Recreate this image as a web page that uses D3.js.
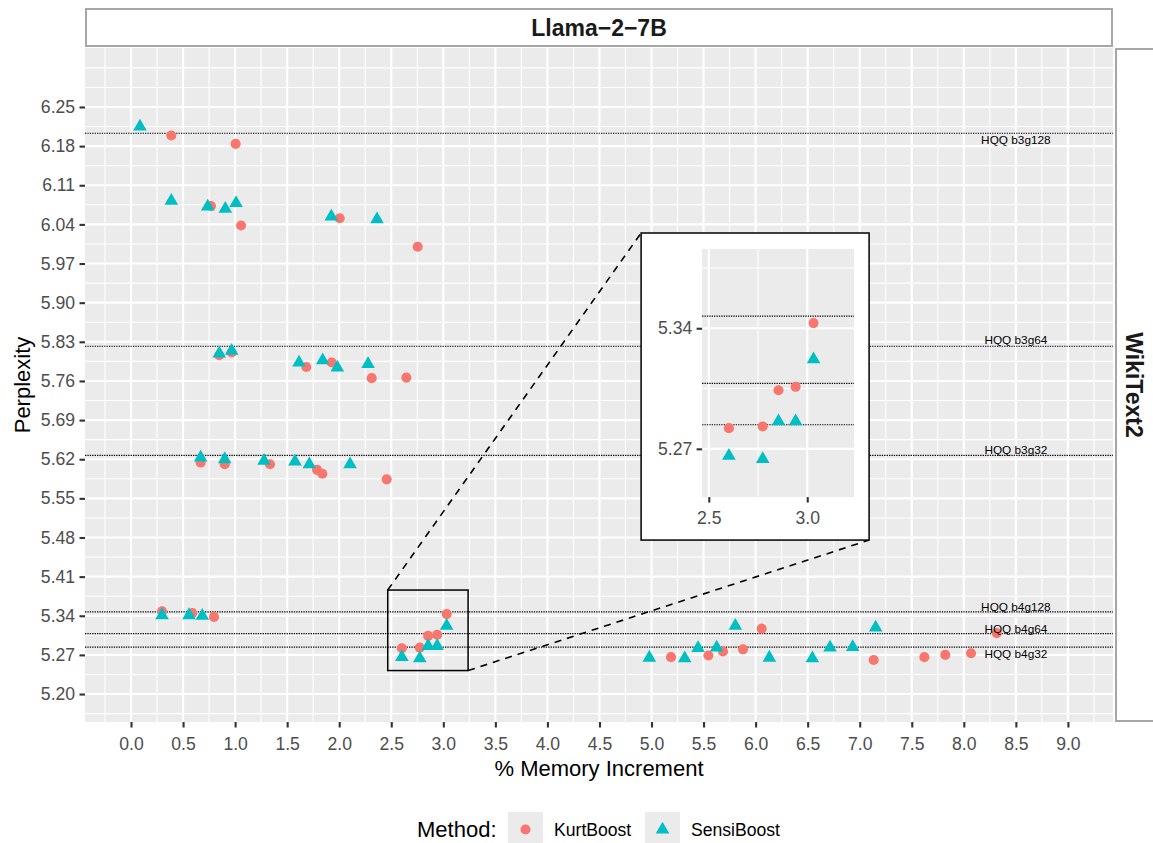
<!DOCTYPE html>
<html>
<head>
<meta charset="utf-8">
<script src="https://cdn.jsdelivr.net/npm/d3@7"></script>
<style>
body { margin: 0; background: #fff; }
svg { display: block; font-family: "Liberation Sans", Arial, sans-serif; }
.axis .domain { display: none; }
.axis line { stroke: #333333; stroke-width: 2.1; }
.axis text { fill: #4d4d4d; font-size: 17.6px; font-family: "Liberation Sans", Arial, sans-serif; }
</style>
</head>
<body>
<svg id="svg_chart" width="1153" height="843"></svg>
<script>

// ====================================================
// values
var x_ticks = [0.0, 0.5, 1.0, 1.5, 2.0, 2.5, 3.0, 3.5, 4.0, 4.5, 5.0, 5.5, 6.0, 6.5, 7.0, 7.5, 8.0, 8.5, 9.0];
var y_ticks = [5.20, 5.27, 5.34, 5.41, 5.48, 5.55, 5.62, 5.69, 5.76, 5.83, 5.90, 5.97, 6.04, 6.11, 6.18, 6.25];
var inset_x_ticks = [2.5, 3.0];
var inset_y_ticks = [5.27, 5.34];

var methods = ["KurtBoost", "SensiBoost"];
var method_colours = ["#F8766D", "#00BFC4"];

// KurtBoost: % memory increment / perplexity
var kurt_mem = [0.387, 1.005, 0.768, 1.057, 2.005, 2.754,
	0.848, 0.967, 1.684, 1.928, 2.312, 2.645,
	0.669, 0.900, 1.335, 1.787, 1.838, 2.456,
	0.298, 0.589, 0.797, 2.602, 2.774, 2.854, 2.941, 3.032,
	5.187, 5.546, 5.687, 5.879, 6.058, 7.134, 7.621, 7.822, 8.069, 8.316];
var kurt_ppl = [6.199, 6.184, 6.073, 6.038, 6.051, 6.000,
	5.806, 5.811, 5.785, 5.793, 5.765, 5.766,
	5.614, 5.611, 5.611, 5.601, 5.594, 5.584,
	5.348, 5.345, 5.338, 5.282, 5.283, 5.304, 5.306, 5.343,
	5.266, 5.269, 5.276, 5.280, 5.317, 5.261, 5.266, 5.270, 5.273, 5.309];

// SensiBoost
var sensi_mem = [0.086, 0.387, 0.737, 0.906, 1.009, 1.924, 2.363,
	0.848, 0.967, 1.614, 1.841, 1.982, 2.277,
	0.669, 0.900, 1.278, 1.575, 1.713, 2.104,
	0.298, 0.557, 0.685, 2.602, 2.774, 2.854, 2.941, 3.032,
	4.979, 5.319, 5.447, 5.626, 5.805, 6.132, 6.545, 6.715, 6.933, 7.153];
var sensi_ppl = [6.215, 6.082, 6.072, 6.068, 6.078, 6.054, 6.049,
	5.809, 5.814, 5.793, 5.797, 5.784, 5.790,
	5.623, 5.620, 5.617, 5.616, 5.611, 5.611,
	5.341, 5.341, 5.340, 5.266, 5.264, 5.286, 5.286, 5.322,
	5.265, 5.264, 5.282, 5.283, 5.322, 5.265, 5.264, 5.283, 5.284, 5.319];

// HQQ baselines
var hqq_names = ["HQQ b3g128", "HQQ b3g64", "HQQ b3g32", "HQQ b4g128", "HQQ b4g64", "HQQ b4g32"];
var hqq_ppl = [6.203, 5.822, 5.627, 5.347, 5.308, 5.284];
var hqq_label_ppl = [6.191, 5.833, 5.636, 5.356, 5.316, 5.271];
var hqq_label_mem = 8.5;

// zoom window and where its magnified copy sits (data units)
var zoom_mem = [2.466, 3.238];
var zoom_ppl = [5.242, 5.386];
var inset_mem = [4.9, 7.09];
var inset_ppl = [5.4754, 6.0246];


// ====================================================
var svg = d3.select("svg#svg_chart");

var panel = {left: 85, right: 1113, top: 48, bottom: 722};

var x_main = d3.scaleLinear()
	.domain([-0.442, 9.433])
	.range([panel.left, panel.right]);

var y_main = d3.scaleLinear()
	.domain([5.150, 6.3555])
	.range([panel.bottom, panel.top]);

var arr_points = [];
kurt_mem.forEach(function(d, i) { arr_points.push({method: 0, mem: d, ppl: kurt_ppl[i]}); });
sensi_mem.forEach(function(d, i) { arr_points.push({method: 1, mem: d, ppl: sensi_ppl[i]}); });

var sym_circle = d3.symbol().type(d3.symbolCircle).size(80);
var sym_triangle = d3.symbol().type(d3.symbolTriangle).size(80);

function fn_shape(m) { return m == 0 ? sym_circle() : sym_triangle(); }

// ggplot style minor breaks: halfway points, one step past the majors
function fn_minor_breaks(ticks, domain) {
	var bd = ticks[1] - ticks[0];
	var b = ticks.slice();
	if (domain[0] < b[0]) b.unshift(b[0] - bd);
	if (domain[1] > b[b.length - 1]) b.push(b[b.length - 1] + bd);
	var out = [];
	for (var i = 0; i < b.length - 1; i++) {
		out.push(b[i], (b[i] + b[i + 1]) / 2);
	}
	out.push(b[b.length - 1]);
	return out.filter(function(v) {
		var is_major = ticks.some(function(t) { return Math.abs(t - v) < 1e-9; });
		return !is_major && v >= domain[0] && v <= domain[1];
	});
}

function fn_draw_panel(g, x, y, xt, yt, clip_id) {
	var x0 = x.range()[0], x1 = x.range()[1];
	var y0 = y.range()[1], y1 = y.range()[0];

	g.append("clipPath").attr("id", clip_id)
		.append("rect")
		.attr("x", x0).attr("y", y0)
		.attr("width", x1 - x0).attr("height", y1 - y0);

	g.append("rect")
		.attr("x", x0).attr("y", y0)
		.attr("width", x1 - x0).attr("height", y1 - y0)
		.attr("fill", "#EBEBEB");

	// minor grid
	g.selectAll(".grid-minor-x")
		.data(fn_minor_breaks(xt, x.domain()))
		.enter().append("line")
		.attr("x1", function(d) { return x(d); }).attr("x2", function(d) { return x(d); })
		.attr("y1", y0).attr("y2", y1)
		.attr("stroke", "#fff").attr("stroke-width", 1.07);

	g.selectAll(".grid-minor-y")
		.data(fn_minor_breaks(yt, y.domain()))
		.enter().append("line")
		.attr("y1", function(d) { return y(d); }).attr("y2", function(d) { return y(d); })
		.attr("x1", x0).attr("x2", x1)
		.attr("stroke", "#fff").attr("stroke-width", 1.07);

	// major grid
	g.selectAll(".grid-major-x")
		.data(xt)
		.enter().append("line")
		.attr("x1", function(d) { return x(d); }).attr("x2", function(d) { return x(d); })
		.attr("y1", y0).attr("y2", y1)
		.attr("stroke", "#fff").attr("stroke-width", 2.13);

	g.selectAll(".grid-major-y")
		.data(yt)
		.enter().append("line")
		.attr("y1", function(d) { return y(d); }).attr("y2", function(d) { return y(d); })
		.attr("x1", x0).attr("x2", x1)
		.attr("stroke", "#fff").attr("stroke-width", 2.13);

	var g_data = g.append("g").attr("clip-path", "url(#" + clip_id + ")");

	// HQQ reference lines
	g_data.selectAll(".hqq")
		.data(hqq_ppl)
		.enter().append("line")
		.attr("x1", x0).attr("x2", x1)
		.attr("y1", function(d) { return y(d); }).attr("y2", function(d) { return y(d); })
		.attr("stroke", "#000").attr("stroke-width", 1.15)
		.attr("stroke-dasharray", "1.3,1.1");

	g_data.selectAll(".pt")
		.data(arr_points)
		.enter().append("path")
		.attr("transform", function(d) { return "translate(" + x(d.mem) + "," + y(d.ppl) + ")"; })
		.attr("d", function(d) { return fn_shape(d.method); })
		.attr("fill", function(d) { return method_colours[d.method]; });

	return g_data;
}


// ====================================================
// strips
svg.append("rect")
	.attr("x", 86).attr("y", 9).attr("width", 1026).attr("height", 37)
	.attr("fill", "#fff").attr("stroke", "#A6A6A6").attr("stroke-width", 2);

svg.append("text")
	.attr("x", (panel.left + panel.right) / 2).attr("y", 36)
	.attr("text-anchor", "middle")
	.attr("font-size", 23)
	.attr("font-weight", "bold")
	.attr("fill", "#1a1a1a")
	.text("Llama\u22122\u22127B");

svg.append("rect")
	.attr("x", 1116).attr("y", 49).attr("width", 60).attr("height", 672)
	.attr("fill", "#fff").attr("stroke", "#A6A6A6").attr("stroke-width", 2);

svg.append("text")
	.attr("transform", "translate(1126," + (panel.top + panel.bottom) / 2 + ") rotate(90)")
	.attr("text-anchor", "middle")
	.attr("font-size", 23)
	.attr("font-weight", "bold")
	.attr("fill", "#1a1a1a")
	.text("WikiText2");


// ====================================================
// main panel
var g_main = svg.append("g").attr("class", "panel-main");
var g_main_data = fn_draw_panel(g_main, x_main, y_main, x_ticks, y_ticks, "clip_main");

g_main_data.selectAll(".hqq-label")
	.data(hqq_names)
	.enter().append("text")
	.attr("x", x_main(hqq_label_mem))
	.attr("y", function(d, i) { return y_main(hqq_label_ppl[i]); })
	.attr("dy", "0.35em")
	.attr("text-anchor", "middle")
	.attr("font-size", 11.8)
	.attr("fill", "#000")
	.text(function(d) { return d; });

// axes
svg.append("g")
	.attr("class", "axis axis--y")
	.attr("transform", "translate(" + panel.left + ",0)")
	.call(d3.axisLeft(y_main)
		.tickValues(y_ticks)
		.tickFormat(d3.format(".2f"))
		.tickSize(5.5)
		.tickPadding(4.4));

svg.append("g")
	.attr("class", "axis axis--x")
	.attr("transform", "translate(0," + panel.bottom + ")")
	.call(d3.axisBottom(x_main)
		.tickValues(x_ticks)
		.tickFormat(d3.format(".1f"))
		.tickSize(5.5)
		.tickPadding(4.4))
	.selectAll("text")
	.attr("y", 16);

svg.append("text")
	.attr("x", (panel.left + panel.right) / 2).attr("y", 776)
	.attr("text-anchor", "middle")
	.attr("font-size", 22)
	.attr("fill", "#000")
	.text("% Memory Increment");

svg.append("text")
	.attr("transform", "translate(30," + (panel.top + panel.bottom) / 2 + ") rotate(-90)")
	.attr("text-anchor", "middle")
	.attr("font-size", 22)
	.attr("fill", "#000")
	.text("Perplexity");


// ====================================================
// zoom box, connectors and inset
var zx0 = x_main(zoom_mem[0]), zx1 = x_main(zoom_mem[1]);
var zy0 = y_main(zoom_ppl[1]), zy1 = y_main(zoom_ppl[0]);
var ix0 = x_main(inset_mem[0]), ix1 = x_main(inset_mem[1]);
var iy0 = y_main(inset_ppl[1]), iy1 = y_main(inset_ppl[0]);

svg.append("rect")
	.attr("x", zx0).attr("y", zy0)
	.attr("width", zx1 - zx0).attr("height", zy1 - zy0)
	.attr("fill", "none").attr("stroke", "#000").attr("stroke-width", 1.5);

svg.selectAll(".connector")
	.data([[zx0, zy0, ix0, iy0], [zx1, zy1, ix1, iy1]])
	.enter().append("line")
	.attr("x1", function(d) { return d[0]; }).attr("y1", function(d) { return d[1]; })
	.attr("x2", function(d) { return d[2]; }).attr("y2", function(d) { return d[3]; })
	.attr("stroke", "#000").attr("stroke-width", 1.6)
	.attr("stroke-dasharray", "7,6");

svg.append("rect")
	.attr("x", ix0).attr("y", iy0)
	.attr("width", ix1 - ix0).attr("height", iy1 - iy0)
	.attr("fill", "#fff").attr("stroke", "#000").attr("stroke-width", 1.5);

var x_inset = d3.scaleLinear()
	.domain(zoom_mem)
	.range([ix0 + 61, ix1 - 15]);

var y_inset = d3.scaleLinear()
	.domain(zoom_ppl)
	.range([iy1 - 43, iy0 + 16]);

var g_inset = svg.append("g").attr("class", "panel-inset");
fn_draw_panel(g_inset, x_inset, y_inset, inset_x_ticks, inset_y_ticks, "clip_inset");

svg.append("g")
	.attr("class", "axis axis--y")
	.attr("transform", "translate(" + x_inset.range()[0] + ",0)")
	.call(d3.axisLeft(y_inset)
		.tickValues(inset_y_ticks)
		.tickFormat(d3.format(".2f"))
		.tickSize(5.5)
		.tickPadding(4.4));

svg.append("g")
	.attr("class", "axis axis--x")
	.attr("transform", "translate(0," + y_inset.range()[0] + ")")
	.call(d3.axisBottom(x_inset)
		.tickValues(inset_x_ticks)
		.tickFormat(d3.format(".1f"))
		.tickSize(5.5)
		.tickPadding(4.4))
	.selectAll("text")
	.attr("y", 14);


// ====================================================
// legend
var legend = svg.append("g").attr("class", "legend");

legend.append("text")
	.attr("x", 417).attr("y", 837)
	.attr("font-size", 22)
	.attr("fill", "#000")
	.text("Method:");

var key_x = [508, 645];

methods.forEach(function(m, i) {
	legend.append("rect")
		.attr("x", key_x[i]).attr("y", 812)
		.attr("width", 35).attr("height", 35)
		.attr("fill", "#EBEBEB");
	legend.append("path")
		.attr("transform", "translate(" + (key_x[i] + 17.5) + "," + 829.5 + ")")
		.attr("d", fn_shape(i))
		.attr("fill", method_colours[i]);
	legend.append("text")
		.attr("x", key_x[i] + 46).attr("y", 835.5)
		.attr("font-size", 17.6)
		.attr("fill", "#000")
		.text(m);
});

</script>
</body>
</html>
